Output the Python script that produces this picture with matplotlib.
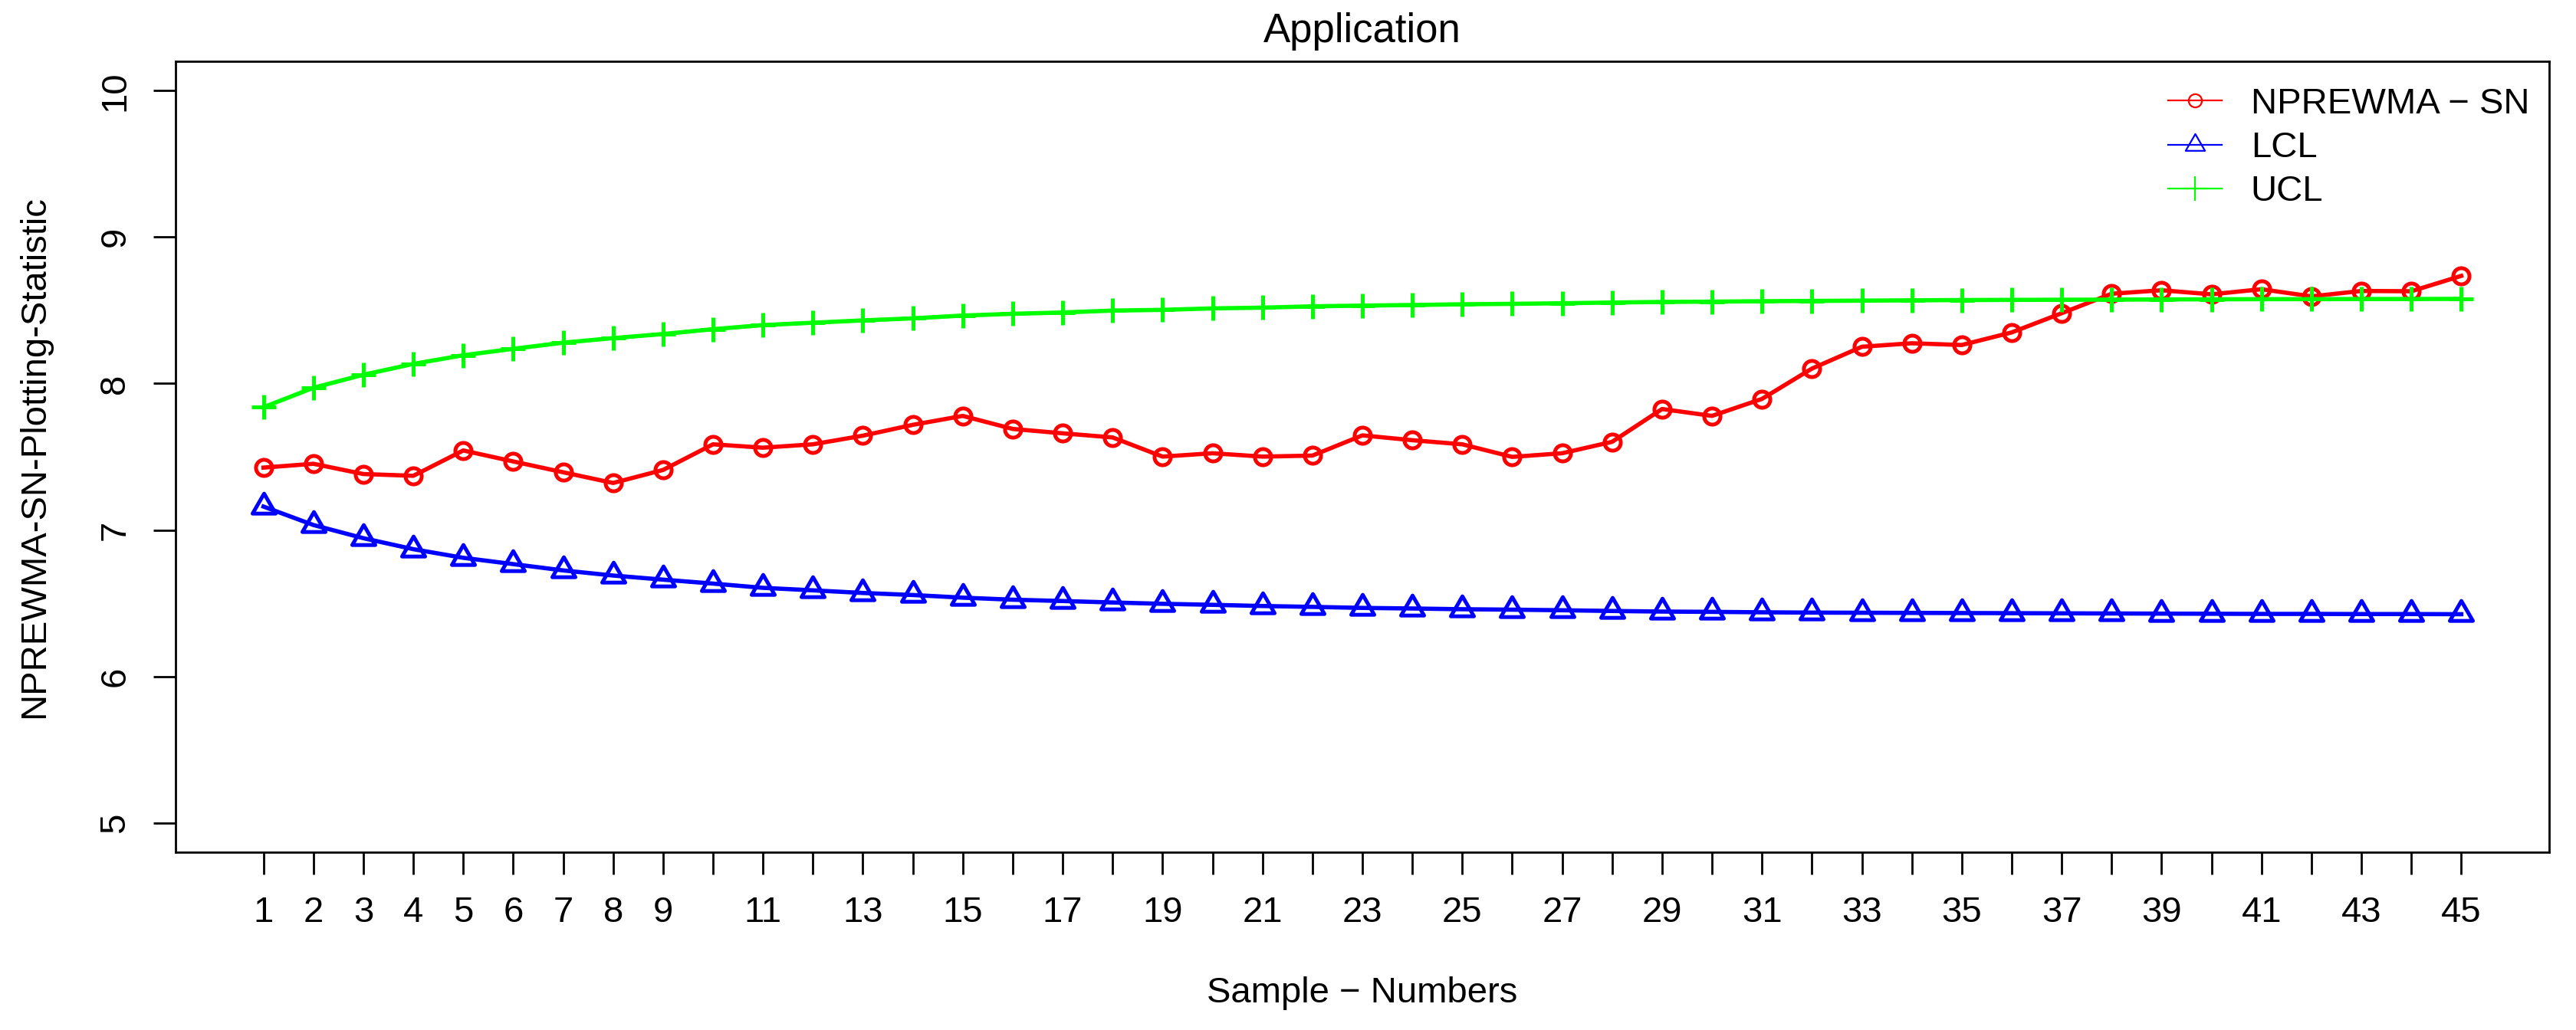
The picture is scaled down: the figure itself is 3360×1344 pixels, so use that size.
import matplotlib
matplotlib.use("Agg")
import matplotlib.pyplot as plt
from matplotlib.lines import Line2D
from matplotlib.path import Path

plt.rcParams["font.family"] = ["Liberation Sans", "DejaVu Sans"]

# sample numbers 1..45
samples = list(range(1, 46))

# NPREWMA-SN plotting statistic
npr_ewma = [7.426, 7.452, 7.382, 7.370, 7.543, 7.468, 7.394, 7.321, 7.410, 7.585,
            7.562, 7.585, 7.644, 7.718, 7.779, 7.690, 7.660, 7.632, 7.501, 7.524,
            7.501, 7.508, 7.646, 7.613, 7.585, 7.499, 7.524, 7.602, 7.826, 7.779,
            7.895, 8.102, 8.251, 8.275, 8.263, 8.349, 8.480, 8.613, 8.637, 8.609,
            8.644, 8.595, 8.632, 8.630, 8.735]

# lower control limit
lcl = [7.160, 7.034, 6.944, 6.869, 6.810, 6.767, 6.724, 6.689, 6.661, 6.634,
       6.605, 6.588, 6.570, 6.556, 6.538, 6.524, 6.515, 6.505, 6.496, 6.489,
       6.481, 6.475, 6.468, 6.464, 6.459, 6.456, 6.452, 6.447, 6.443, 6.441,
       6.438, 6.436, 6.435, 6.434, 6.433, 6.432, 6.431, 6.430, 6.429, 6.428,
       6.427, 6.427, 6.426, 6.426, 6.425]

# upper control limit
ucl = [7.838, 7.971, 8.060, 8.134, 8.193, 8.237, 8.279, 8.310, 8.338, 8.371,
       8.399, 8.415, 8.431, 8.445, 8.464, 8.476, 8.485, 8.498, 8.503, 8.513,
       8.518, 8.527, 8.532, 8.536, 8.541, 8.544, 8.548, 8.553, 8.557, 8.559,
       8.562, 8.564, 8.566, 8.568, 8.570, 8.571, 8.572, 8.573, 8.574, 8.575,
       8.576, 8.576, 8.577, 8.577, 8.578]

x_labels = [str(s) if (s < 10 or s % 2 == 1) else "" for s in samples]
y_ticks = [5, 6, 7, 8, 9, 10]

# R style open triangle (point at centroid)
tri = Path([(0, 1.555), (1.347, -0.778), (-1.347, -0.778), (0, 1.555)],
           [Path.MOVETO, Path.LINETO, Path.LINETO, Path.CLOSEPOLY])

fig = plt.figure(figsize=(16.8, 6.72), dpi=200)
ax = fig.add_axes([229 / 3360, 1 - 1112 / 1344, (3325 - 229) / 3360, (1112 - 80) / 1344])

ax.plot(samples, npr_ewma, color="#ff0000", lw=2.0, marker="o", ms=7.6,
        mfc="none", mew=1.8)
ax.plot(samples, lcl, color="#0000ff", lw=2.0, marker=tri, ms=12.5,
        mfc="none", mew=1.8)
ax.plot(samples, ucl, color="#00ff00", lw=2.0, marker="+", ms=11.2, mew=1.8)

ax.set_xlim(-0.76, 46.76)
ax.set_ylim(4.8, 10.2)
ax.set_xticks(samples)
ax.set_xticklabels(x_labels)
ax.set_yticks(y_ticks)
ax.set_yticklabels([str(v) for v in y_ticks], rotation=90, va="center")

ax.tick_params(axis="both", length=10.4, width=1.0, labelsize=17, pad=10)
for sp in ax.spines.values():
    sp.set_linewidth(1.0)

ax.set_title("Application", fontsize=19, pad=9)
ax.set_xlabel("Sample \u2212 Numbers", fontsize=17, labelpad=22)
ax.set_ylabel("NPREWMA-SN-Plotting-Statistic", fontsize=17, labelpad=22)

handles = [
    Line2D([], [], color="#ff0000", lw=0.8, marker="o", ms=6.2, mfc="none", mew=0.8),
    Line2D([], [], color="#0000ff", lw=0.8, marker=tri, ms=10.5, mfc="none", mew=0.8),
    Line2D([], [], color="#00ff00", lw=0.8, marker="+", ms=11.2, mew=0.8),
]
fig.legend(handles, ["NPREWMA \u2212 SN", "LCL", "UCL"], loc="upper left",
           bbox_to_anchor=(2828 / 3360, 1 - 114 / 1344), frameon=False,
           fontsize=17, handlelength=1.49, handletextpad=0.79,
           borderpad=0, borderaxespad=0, labelspacing=0.28)

fig.savefig("out.png", dpi=200)
